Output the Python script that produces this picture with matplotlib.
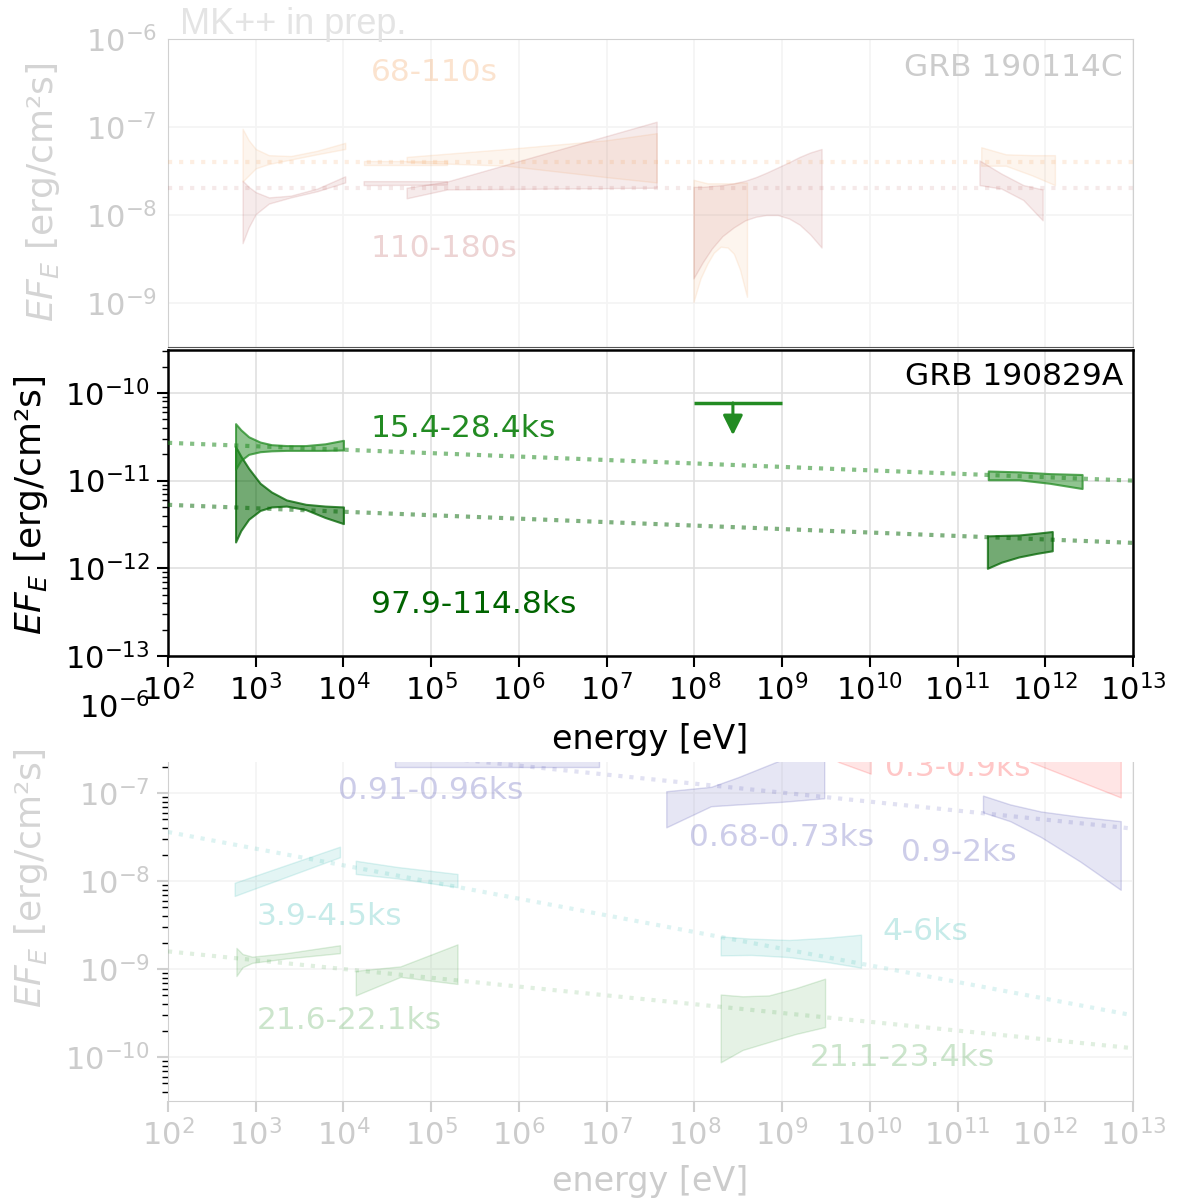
import matplotlib.pyplot as plt
import numpy as np
from matplotlib.colors import to_rgba
from matplotlib.patches import Rectangle
from matplotlib.ticker import LogLocator, NullFormatter, NullLocator

# all fluxes are log10(E F_E / erg cm^-2 s^-1), energies log10(E / eV)

# --- top panel, GRB 190114C (faded) ---
top_dot_e = [1e2, 1e13]
top_dot_early = [-7.40, -7.40]
top_dot_late = [-7.695, -7.695]

t_xrt_loge = [2.85, 2.92, 3.0, 3.15, 3.4, 3.7, 4.02]
t_xrt_early_hi = [-7.02, -7.15, -7.25, -7.32, -7.33, -7.27, -7.18]
t_xrt_early_lo = [-7.62, -7.55, -7.47, -7.42, -7.37, -7.31, -7.25]
t_xrt_late_hi = [-7.61, -7.68, -7.74, -7.80, -7.78, -7.70, -7.56]
t_xrt_late_lo = [-8.32, -8.14, -7.99, -7.87, -7.80, -7.73, -7.63]

t_bar_loge = [4.23, 5.18]
t_bar_early_hi = [-7.39, -7.39]
t_bar_early_lo = [-7.43, -7.43]
t_bar_late_hi = [-7.615, -7.615]
t_bar_late_lo = [-7.66, -7.655]

t_mev_early_loge = [4.72, 5.86, 7.0, 7.57]
t_mev_early_hi = [-7.34, -7.25, -7.15, -7.07]
t_mev_early_lo = [-7.40, -7.44, -7.57, -7.63]
t_mev_late_loge = [4.72, 5.18, 7.57]
t_mev_late_hi = [-7.69, -7.62, -6.94]
t_mev_late_lo = [-7.81, -7.71, -7.69]

t_gev_early_loge = [7.99, 8.07, 8.15, 8.22, 8.3, 8.38, 8.45, 8.52, 8.6]
t_gev_early_hi = [-7.60, -7.62, -7.64, -7.64, -7.64, -7.64, -7.64, -7.63, -7.63]
t_gev_early_lo = [-8.99, -8.72, -8.55, -8.43, -8.36, -8.37, -8.44, -8.62, -8.93]
t_gev_late_loge = [7.99, 8.1, 8.2, 8.32, 8.45, 8.58, 8.7, 8.82, 8.95, 9.08, 9.2, 9.32, 9.45]
t_gev_late_hi = [-7.68, -7.68, -7.67, -7.66, -7.64, -7.61, -7.57, -7.52, -7.46, -7.40, -7.34, -7.29, -7.25]
t_gev_late_lo = [-8.72, -8.53, -8.38, -8.24, -8.14, -8.06, -8.02, -8.0, -8.0, -8.04, -8.11, -8.22, -8.37]

t_tev_early_loge = [11.27, 11.55, 11.85, 12.11]
t_tev_early_hi = [-7.23, -7.31, -7.32, -7.32]
t_tev_early_lo = [-7.44, -7.44, -7.55, -7.66]
t_tev_late_loge = [11.25, 11.5, 11.75, 11.97]
t_tev_late_hi = [-7.38, -7.53, -7.66, -7.71]
t_tev_late_lo = [-7.66, -7.70, -7.83, -8.06]

# --- middle panel, GRB 190829A ---
m_line_e = [1e2, 1e13]
m_line_early = [2.7e-11, 1.0e-11]
m_line_late = [5.3e-12, 1.95e-12]

m_xrt_loge = [2.77, 2.83, 2.92, 3.05, 3.18, 3.35, 3.57, 3.79, 4.0]
m_xrt_early_hi = [-10.35, -10.42, -10.50, -10.56, -10.59, -10.60, -10.60, -10.58, -10.54]
m_xrt_early_lo = [-10.87, -10.77, -10.70, -10.67, -10.66, -10.655, -10.655, -10.655, -10.65]
m_xrt_late_hi = [-10.61, -10.72, -10.86, -11.03, -11.13, -11.22, -11.27, -11.29, -11.30]
m_xrt_late_lo = [-11.70, -11.57, -11.44, -11.34, -11.30, -11.29, -11.33, -11.42, -11.49]

m_tev_early_loge = [11.35, 11.7, 12.05, 12.42]
m_tev_early_hi = [-10.89, -10.90, -10.92, -10.93]
m_tev_early_lo = [-10.99, -10.99, -11.03, -11.09]
m_tev_late_loge = [11.34, 11.5, 11.7, 11.9, 12.08]
m_tev_late_hi = [-11.63, -11.625, -11.62, -11.60, -11.58]
m_tev_late_lo = [-12.0, -11.93, -11.87, -11.83, -11.80]

m_ul_e = [1e8, 1e9]
m_ul_f = 7.7e-11
m_ul_arrow_e = 2.75e8
m_ul_tip = 3.3e-11

# --- bottom panel (faded) ---
b_dot_e = [1e2, 1e13]
b_dot_violet = [-6.28, -7.405]
b_dot_cyan = [-7.443, -9.527]
b_dot_green = [-8.80, -9.90]

b_v1_loge = [4.59, 6.91]
b_v1_hi = [-6.30, -6.30]
b_v1_lo = [-6.70, -6.70]
b_v2_loge = [7.68, 8.19, 8.5, 9.0, 9.48]
b_v2_hi = [-6.98, -6.93, -6.82, -6.62, -6.45]
b_v2_lo = [-7.39, -7.15, -7.13, -7.10, -7.06]
b_v3_loge = [11.29, 11.6, 11.95, 12.4, 12.86]
b_v3_hi = [-7.03, -7.13, -7.21, -7.27, -7.32]
b_v3_lo = [-7.22, -7.32, -7.50, -7.78, -8.10]

b_r1_loge = [9.3, 9.65, 10.01]
b_r1_hi = [-6.15, -6.20, -6.25]
b_r1_lo = [-6.45, -6.65, -6.78]
b_r2_loge = [11.3, 11.84, 12.86]
b_r2_hi = [-6.10, -6.15, -6.20]
b_r2_lo = [-6.35, -6.65, -7.05]

b_c1_loge = [2.76, 3.96]
b_c1_hi = [-8.02, -7.61]
b_c1_lo = [-8.17, -7.73]
b_c2_loge = [4.14, 4.61, 5.30]
b_c2_hi = [-7.77, -7.84, -7.92]
b_c2_lo = [-7.92, -7.97, -8.07]
b_c3_loge = [8.3, 8.65, 9.08, 9.51, 9.9]
b_c3_hi = [-8.63, -8.655, -8.67, -8.645, -8.61]
b_c3_lo = [-8.845, -8.84, -8.865, -8.92, -8.985]

b_g1_loge = [2.78, 2.85, 2.96, 3.35, 3.96]
b_g1_hi = [-8.76, -8.83, -8.86, -8.82, -8.73]
b_g1_lo = [-9.08, -8.98, -8.93, -8.88, -8.82]
b_g2_loge = [4.14, 4.65, 5.30]
b_g2_hi = [-9.02, -8.97, -8.72]
b_g2_lo = [-9.30, -9.09, -9.17]
b_g3_loge = [8.3, 8.55, 8.85, 9.15, 9.49]
b_g3_hi = [-9.29, -9.31, -9.30, -9.22, -9.11]
b_g3_lo = [-10.06, -9.92, -9.83, -9.74, -9.66]

decades = [1e2, 1e3, 1e4, 1e5, 1e6, 1e7, 1e8, 1e9, 1e10, 1e11, 1e12, 1e13]

fade_txt = "#cccccc"
peach = "sandybrown"
rose = "brown"
violet = "#3838a8"
cyan = "lightseagreen"
green = "green"


def bowtie(ax, loge, lo, hi, color, fa, ea, lw=1.0):
    e = 10.0 ** np.asarray(loge)
    ax.fill_between(e, 10.0 ** np.asarray(lo), 10.0 ** np.asarray(hi),
                    facecolor=to_rgba(color, fa), edgecolor=to_rgba(color, ea), linewidth=lw)


def dotted(ax, e, logf, color, alpha):
    ax.plot(e, 10.0 ** np.asarray(logf), ls=":", lw=3, color=to_rgba(color, alpha), zorder=3)


def setup(ax, ylim, yticks, grid_color, spine_color, label_color):
    ax.set_xscale("log")
    ax.set_yscale("log")
    ax.set_xlim(1e2, 1e13)
    ax.set_ylim(*ylim)
    ax.set_xticks(decades)
    ax.xaxis.set_minor_locator(NullLocator())
    ax.set_yticks(yticks)
    ax.grid(True, which="major", color=grid_color, lw=1.2)
    ax.set_axisbelow(True)
    for s in ax.spines.values():
        s.set_color(spine_color)
    ax.tick_params(labelsize=22, colors=spine_color, labelcolor=label_color)


fig = plt.figure(figsize=(11.78, 12.03), dpi=100)
W, H = 1178.0, 1203.0

# bottom panel
ax_b = fig.add_axes([168 / W, 1 - 1101 / H, 965 / W, 396 / H], zorder=0)
setup(ax_b, (10 ** -10.5, 1e-6), [1e-10, 1e-9, 1e-8, 1e-7, 1e-6], "#f4f4f4", "#d0d0d0", fade_txt)
ax_b.yaxis.set_minor_locator(LogLocator(base=10, subs=np.arange(2, 10)))
ax_b.yaxis.set_minor_formatter(NullFormatter())
ax_b.tick_params(which="major", length=8, width=1.5, pad=5)
ax_b.tick_params(which="minor", length=4, width=1.0)
ax_b.spines["top"].set_visible(False)
ax_b.get_yticklabels()[-1].set_color("black")
ax_b.set_xlabel("energy [eV]", fontsize=24, color=fade_txt, labelpad=10)
ax_b.set_ylabel("$EF_E$ [erg/cm²s]", fontsize=26, color="#d4d4d4")
ax_b.yaxis.set_label_coords(-0.122, 0.563)

dotted(ax_b, b_dot_e, b_dot_violet, violet, 0.15)
dotted(ax_b, b_dot_e, b_dot_cyan, cyan, 0.15)
dotted(ax_b, b_dot_e, b_dot_green, green, 0.12)
bowtie(ax_b, b_v1_loge, b_v1_lo, b_v1_hi, violet, 0.12, 0.18)
bowtie(ax_b, b_v2_loge, b_v2_lo, b_v2_hi, violet, 0.12, 0.18)
bowtie(ax_b, b_v3_loge, b_v3_lo, b_v3_hi, violet, 0.12, 0.18)
bowtie(ax_b, b_r1_loge, b_r1_lo, b_r1_hi, "red", 0.1, 0.15)
bowtie(ax_b, b_r2_loge, b_r2_lo, b_r2_hi, "red", 0.1, 0.15)
bowtie(ax_b, b_c1_loge, b_c1_lo, b_c1_hi, cyan, 0.12, 0.15)
bowtie(ax_b, b_c2_loge, b_c2_lo, b_c2_hi, cyan, 0.12, 0.15)
bowtie(ax_b, b_c3_loge, b_c3_lo, b_c3_hi, cyan, 0.12, 0.15)
bowtie(ax_b, b_g1_loge, b_g1_lo, b_g1_hi, green, 0.1, 0.13)
bowtie(ax_b, b_g2_loge, b_g2_lo, b_g2_hi, green, 0.1, 0.13)
bowtie(ax_b, b_g3_loge, b_g3_lo, b_g3_hi, green, 0.1, 0.13)

lab = dict(fontsize=22.5, ha="left", va="center")
ax_b.text(10 ** 3.94, 10 ** -6.977, "0.91-0.96ks", color=to_rgba(violet, 0.25), **lab)
ax_b.text(10 ** 7.94, 10 ** -7.50, "0.68-0.73ks", color=to_rgba(violet, 0.25), **lab)
ax_b.text(10 ** 10.355, 10 ** -7.68, "0.9-2ks", color=to_rgba(violet, 0.25), **lab)
ax_b.text(10 ** 10.17, 10 ** -6.705, "0.3-0.9ks", color=to_rgba("red", 0.22), **lab)
ax_b.text(10 ** 3.01, 10 ** -8.40, "3.9-4.5ks", color=to_rgba(cyan, 0.25), **lab)
ax_b.text(10 ** 10.14, 10 ** -8.57, "4-6ks", color=to_rgba(cyan, 0.25), **lab)
ax_b.text(10 ** 3.01, 10 ** -9.58, "21.6-22.1ks", color=to_rgba(green, 0.2), **lab)
ax_b.text(10 ** 9.32, 10 ** -10.01, "21.1-23.4ks", color=to_rgba(green, 0.2), **lab)

# white strip where the middle panel was pasted over the bottom one
fig.add_artist(Rectangle((148 / W, 1 - 762 / H), 1 - 148 / W, 107 / H,
                         transform=fig.transFigure, facecolor="white", edgecolor="none", zorder=1))

# top panel
ax_t = fig.add_axes([168 / W, 1 - 347 / H, 965 / W, 308 / H], zorder=0)
setup(ax_t, (10 ** -9.5, 1e-6), [1e-9, 1e-8, 1e-7, 1e-6], "#f4f4f4", "#d0d0d0", fade_txt)
ax_t.yaxis.set_minor_locator(NullLocator())
ax_t.tick_params(length=0, pad=8, labelbottom=False)
ax_t.spines["bottom"].set_color("#555555")
ax_t.set_ylabel("$EF_E$ [erg/cm²s]", fontsize=26, color="#d4d4d4")
ax_t.yaxis.set_label_coords(-0.11, 0.503)

dotted(ax_t, top_dot_e, top_dot_early, peach, 0.18)
dotted(ax_t, top_dot_e, top_dot_late, rose, 0.1)
bowtie(ax_t, t_xrt_loge, t_xrt_early_lo, t_xrt_early_hi, peach, 0.1, 0.14)
bowtie(ax_t, t_xrt_loge, t_xrt_late_lo, t_xrt_late_hi, rose, 0.09, 0.12)
bowtie(ax_t, t_bar_loge, t_bar_early_lo, t_bar_early_hi, peach, 0.1, 0.14)
bowtie(ax_t, t_bar_loge, t_bar_late_lo, t_bar_late_hi, rose, 0.09, 0.12)
bowtie(ax_t, t_mev_early_loge, t_mev_early_lo, t_mev_early_hi, peach, 0.1, 0.14)
bowtie(ax_t, t_mev_late_loge, t_mev_late_lo, t_mev_late_hi, rose, 0.09, 0.12)
bowtie(ax_t, t_gev_early_loge, t_gev_early_lo, t_gev_early_hi, peach, 0.1, 0.14)
bowtie(ax_t, t_gev_late_loge, t_gev_late_lo, t_gev_late_hi, rose, 0.09, 0.12)
bowtie(ax_t, t_tev_early_loge, t_tev_early_lo, t_tev_early_hi, peach, 0.1, 0.14)
bowtie(ax_t, t_tev_late_loge, t_tev_late_lo, t_tev_late_hi, rose, 0.09, 0.12)

ax_t.text(10 ** 4.31, 10 ** -6.386, "68-110s", color=to_rgba(peach, 0.3), **lab)
ax_t.text(10 ** 4.31, 10 ** -8.386, "110-180s", color=to_rgba(rose, 0.2), **lab)
ax_t.text(0.9896, 0.909, "GRB 190114C", transform=ax_t.transAxes, fontsize=22.5,
          ha="right", va="center", color=fade_txt)
fig.text(180 / W, 1 - 34 / H, "MK++ in prep.", family="Liberation Sans", fontsize=26,
         color="#e4e4e4", ha="left", va="baseline")

# middle panel
ax = fig.add_axes([168 / W, 1 - 656 / H, 965 / W, 306 / H], zorder=2)
setup(ax, (1e-13, 10 ** -9.51), [1e-13, 1e-12, 1e-11, 1e-10], "#e0e0e0", "black", "black")
ax.yaxis.set_minor_locator(LogLocator(base=10, subs=np.arange(2, 10)))
ax.yaxis.set_minor_formatter(NullFormatter())
ax.tick_params(which="major", length=8, width=1.5, pad=5)
ax.tick_params(which="minor", length=4, width=1.0)
for s in ax.spines.values():
    s.set_linewidth(1.8)
ax.set_xlabel("energy [eV]", fontsize=24, labelpad=12)
ax.set_ylabel("$EF_E$ [erg/cm²s]", fontsize=26)
ax.yaxis.set_label_coords(-0.122, 0.493)

bowtie(ax, m_xrt_loge, m_xrt_late_lo, m_xrt_late_hi, "darkgreen", 0.55, 0.75, lw=1.5)
bowtie(ax, m_xrt_loge, m_xrt_early_lo, m_xrt_early_hi, "forestgreen", 0.5, 0.75, lw=1.5)
bowtie(ax, m_tev_late_loge, m_tev_late_lo, m_tev_late_hi, "darkgreen", 0.55, 0.75, lw=1.5)
bowtie(ax, m_tev_early_loge, m_tev_early_lo, m_tev_early_hi, "forestgreen", 0.5, 0.75, lw=1.5)
ax.plot(m_line_e, m_line_early, ls=":", lw=3, color=to_rgba("forestgreen", 0.55), zorder=3)
ax.plot(m_line_e, m_line_late, ls=":", lw=3, color=to_rgba("darkgreen", 0.5), zorder=3)

ax.hlines(m_ul_f, m_ul_e[0], m_ul_e[1], color="forestgreen", lw=2.5)
ax.annotate("", xy=(m_ul_arrow_e, m_ul_tip), xytext=(m_ul_arrow_e, m_ul_f),
            arrowprops=dict(arrowstyle="-|>", color="forestgreen", lw=2.2,
                            mutation_scale=30, shrinkA=0, shrinkB=0))

ax.text(10 ** 4.31, 10 ** -10.41, "15.4-28.4ks", color="forestgreen", **lab)
ax.text(10 ** 4.31, 10 ** -12.41, "97.9-114.8ks", color="darkgreen", **lab)
ax.text(0.9896, 0.915, "GRB 190829A", transform=ax.transAxes, fontsize=22.5,
        ha="right", va="center", color="black")

fig.savefig("out.png", dpi=100)
